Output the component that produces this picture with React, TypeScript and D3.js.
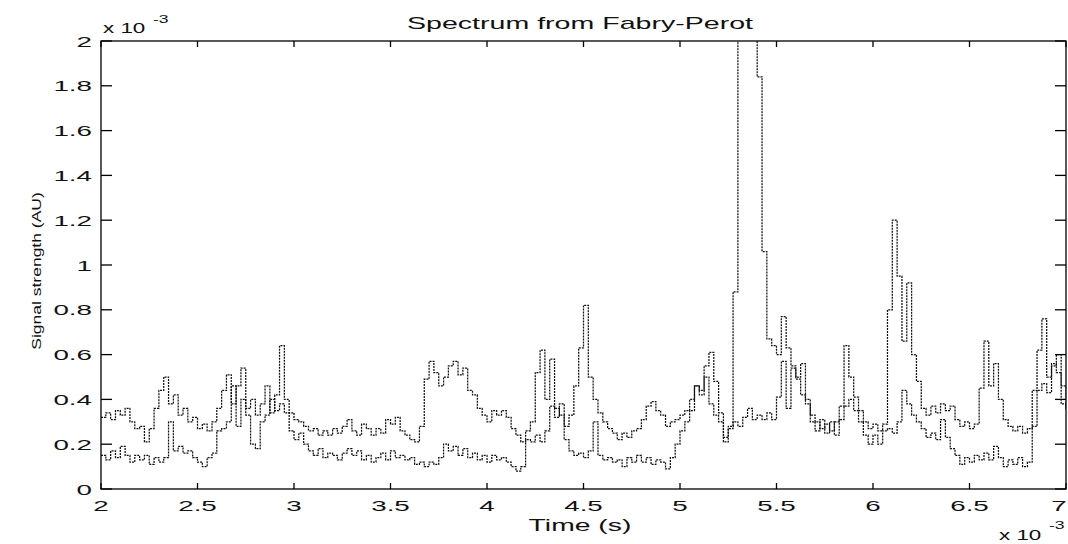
import React from 'react';
import * as d3 from 'd3';

// Sampled signal (units of 1e-3), starting at t = 2.0 ms, step 0.025 ms
const T0 = 2.0;
const DT = 0.025;

const seriesA = [
  0.32, 0.34, 0.31, 0.35, 0.33, 0.36, 0.30, 0.27,
  0.28, 0.21, 0.27, 0.36, 0.44, 0.50, 0.38, 0.42,
  0.33, 0.36, 0.30, 0.32, 0.27, 0.29, 0.26, 0.30,
  0.36, 0.44, 0.51, 0.38, 0.46, 0.54, 0.36, 0.40,
  0.33, 0.38, 0.46, 0.34, 0.42, 0.64, 0.40, 0.34,
  0.31, 0.30, 0.28, 0.26, 0.27, 0.24, 0.26, 0.24,
  0.27, 0.25, 0.28, 0.31, 0.26, 0.24, 0.29, 0.27,
  0.24, 0.27, 0.25, 0.31, 0.29, 0.32, 0.26, 0.24,
  0.22, 0.21, 0.28, 0.49, 0.57, 0.52, 0.46, 0.50,
  0.55, 0.57, 0.51, 0.54, 0.44, 0.42, 0.36, 0.33,
  0.30, 0.35, 0.33, 0.35, 0.32, 0.27, 0.24, 0.21,
  0.26, 0.30, 0.52, 0.62, 0.40, 0.58, 0.36, 0.33,
  0.28, 0.33, 0.46, 0.63, 0.82, 0.50, 0.40, 0.34,
  0.30, 0.27, 0.25, 0.22, 0.25, 0.23, 0.26, 0.27,
  0.31, 0.37, 0.39, 0.35, 0.33, 0.28, 0.30, 0.31,
  0.33, 0.35, 0.40, 0.46, 0.42, 0.55, 0.61, 0.48,
  0.34, 0.23, 0.28, 0.88, 2.60, 2.80, 2.70, 2.50,
  1.84, 1.06, 0.67, 0.64, 0.60, 0.77, 0.63, 0.55,
  0.49, 0.42, 0.38, 0.33, 0.30, 0.27, 0.29, 0.26,
  0.30, 0.37, 0.64, 0.50, 0.41, 0.35, 0.30, 0.27,
  0.29, 0.26, 0.29, 0.80, 1.20, 0.95, 0.66, 0.92,
  0.60, 0.48, 0.36, 0.33, 0.37, 0.34, 0.38, 0.35,
  0.37, 0.31, 0.28, 0.30, 0.27, 0.29, 0.45, 0.66,
  0.46, 0.56, 0.40, 0.31, 0.28, 0.26, 0.28, 0.25,
  0.27, 0.44, 0.62, 0.76, 0.50, 0.55, 0.60, 0.38,
  0.36,
];

const seriesB = [
  0.15, 0.13, 0.17, 0.14, 0.19, 0.15, 0.12, 0.15,
  0.13, 0.15, 0.11, 0.14, 0.12, 0.14, 0.30, 0.17,
  0.19, 0.16, 0.17, 0.14, 0.12, 0.10, 0.14, 0.16,
  0.26, 0.27, 0.30, 0.46, 0.28, 0.40, 0.33, 0.20,
  0.18, 0.30, 0.33, 0.40, 0.35, 0.38, 0.34, 0.26,
  0.22, 0.25, 0.20, 0.17, 0.15, 0.18, 0.14, 0.16,
  0.15, 0.13, 0.16, 0.18, 0.15, 0.17, 0.13, 0.15,
  0.12, 0.14, 0.16, 0.13, 0.17, 0.14, 0.15, 0.13,
  0.14, 0.11, 0.12, 0.10, 0.12, 0.11, 0.14, 0.20,
  0.17, 0.19, 0.15, 0.18, 0.14, 0.16, 0.13, 0.15,
  0.12, 0.15, 0.13, 0.14, 0.12, 0.10, 0.08, 0.10,
  0.22, 0.21, 0.24, 0.21, 0.26, 0.37, 0.32, 0.38,
  0.22, 0.17, 0.15, 0.16, 0.14, 0.17, 0.30, 0.15,
  0.13, 0.14, 0.12, 0.13, 0.10, 0.14, 0.12, 0.15,
  0.12, 0.14, 0.11, 0.13, 0.12, 0.09, 0.14, 0.20,
  0.26, 0.30, 0.35, 0.46, 0.44, 0.50, 0.38, 0.33,
  0.30, 0.21, 0.27, 0.30, 0.28, 0.32, 0.36, 0.31,
  0.33, 0.31, 0.34, 0.31, 0.41, 0.57, 0.36, 0.54,
  0.50, 0.56, 0.40, 0.30, 0.26, 0.31, 0.25, 0.30,
  0.24, 0.31, 0.37, 0.40, 0.35, 0.30, 0.24, 0.20,
  0.24, 0.20, 0.26, 0.27, 0.25, 0.30, 0.44, 0.38,
  0.33, 0.30, 0.27, 0.23, 0.25, 0.22, 0.31, 0.23,
  0.18, 0.15, 0.11, 0.14, 0.12, 0.15, 0.13, 0.16,
  0.13, 0.19, 0.14, 0.10, 0.13, 0.11, 0.14, 0.10,
  0.12, 0.28, 0.44, 0.47, 0.43, 0.56, 0.52, 0.46,
  0.35,
];

const xTickValues = [2, 2.5, 3, 3.5, 4, 4.5, 5, 5.5, 6, 6.5, 7];
const xTickLabels = ['2', '2.5', '3', '3.5', '4', '4.5', '5', '5.5', '6', '6.5', '7'];
const yTickValues = [0, 0.2, 0.4, 0.6, 0.8, 1, 1.2, 1.4, 1.6, 1.8, 2];
const yTickLabels = ['0', '0.2', '0.4', '0.6', '0.8', '1', '1.2', '1.4', '1.6', '1.8', '2'];

const TITLE = 'Spectrum from Fabry-Perot';
const XLABEL = 'Time (s)';
const YLABEL = 'Signal strength (AU)';
const EXP_BASE = 'x 10';
const EXP_POW = '-3';

const FONT = '"Liberation Sans", Arial, Helvetica, sans-serif';

export default function App() {
  const W = 1068;
  const H = 544;
  const L = 101, R = 1066, T = 41, B = 489;
  const x = d3.scaleLinear().domain([2, 7]).range([L, R]);
  const y = d3.scaleLinear().domain([0, 2]).range([B, T]);
  const line = d3
    .line<number>()
    .x((_, i) => x(T0 + i * DT))
    .y((d) => y(d))
    .curve(d3.curveStepAfter);

  const SX = 1.85;
  const tickStyle = { fontFamily: FONT, fontSize: 15, fill: '#111' } as const;

  return (
    <svg
      width={W}
      height={H}
      viewBox={`0 0 ${W} ${H}`}
      style={{ position: 'absolute', left: 0, top: 0, background: '#fff' }}
    >
      <rect x={0} y={0} width={W} height={H} fill="#fff" />
      <defs>
        <clipPath id="plotClip">
          <rect x={L} y={T} width={R - L} height={B - T} />
        </clipPath>
      </defs>

      {/* data lines */}
      <g clipPath="url(#plotClip)" fill="none" stroke="#111" strokeWidth={1.25}>
        <path d={line(seriesA) || ''} strokeDasharray="2 1" />
        <path d={line(seriesB) || ''} strokeDasharray="2 1" />
      </g>

      {/* box */}
      <rect x={L} y={T} width={R - L} height={B - T} fill="none" stroke="#000" strokeWidth={1.3} />

      {/* x ticks */}
      {xTickValues.map((v, i) => (
        <g key={'xt' + i}>
          <line x1={x(v)} x2={x(v)} y1={B} y2={B - 6} stroke="#000" strokeWidth={1.3} />
          <line x1={x(v)} x2={x(v)} y1={T} y2={T + 6} stroke="#000" strokeWidth={1.3} />
          <text
            transform={`translate(${Math.min(x(v), W - 9)},511) scale(${SX},1)`}
            textAnchor="middle"
            style={tickStyle}
          >
            {xTickLabels[i]}
          </text>
        </g>
      ))}

      {/* y ticks */}
      {yTickValues.map((v, i) => (
        <g key={'yt' + i}>
          <line x1={L} x2={L + 11} y1={y(v)} y2={y(v)} stroke="#000" strokeWidth={1.3} />
          <line x1={R} x2={R - 11} y1={y(v)} y2={y(v)} stroke="#000" strokeWidth={1.3} />
          <text
            transform={`translate(92,${y(v) + 5.5}) scale(${SX},1)`}
            textAnchor="end"
            style={tickStyle}
          >
            {yTickLabels[i]}
          </text>
        </g>
      ))}

      {/* title */}
      <text
        transform={`translate(580,29) scale(1.68,1)`}
        textAnchor="middle"
        style={{ fontFamily: FONT, fontSize: 17, fill: '#111' }}
      >
        {TITLE}
      </text>

      {/* x label */}
      <text
        transform={`translate(580,531) scale(1.77,1)`}
        textAnchor="middle"
        style={{ fontFamily: FONT, fontSize: 16, fill: '#111' }}
      >
        {XLABEL}
      </text>

      {/* y label */}
      <text
        transform={`translate(41,271) rotate(-90) scale(1.46,1)`}
        textAnchor="middle"
        style={{ fontFamily: FONT, fontSize: 12, fill: '#111' }}
      >
        {YLABEL}
      </text>

      {/* exponent top-left */}
      <text transform={`translate(103,33) scale(1.6,1)`} style={{ fontFamily: FONT, fontSize: 14, fill: '#111' }}>
        {EXP_BASE}
      </text>
      <text transform={`translate(153,23) scale(1.6,1)`} style={{ fontFamily: FONT, fontSize: 11, fill: '#111' }}>
        {EXP_POW}
      </text>

      {/* exponent bottom-right */}
      <text transform={`translate(999,540) scale(1.6,1)`} style={{ fontFamily: FONT, fontSize: 14, fill: '#111' }}>
        {EXP_BASE}
      </text>
      <text transform={`translate(1049,529) scale(1.6,1)`} style={{ fontFamily: FONT, fontSize: 11, fill: '#111' }}>
        {EXP_POW}
      </text>
    </svg>
  );
}
